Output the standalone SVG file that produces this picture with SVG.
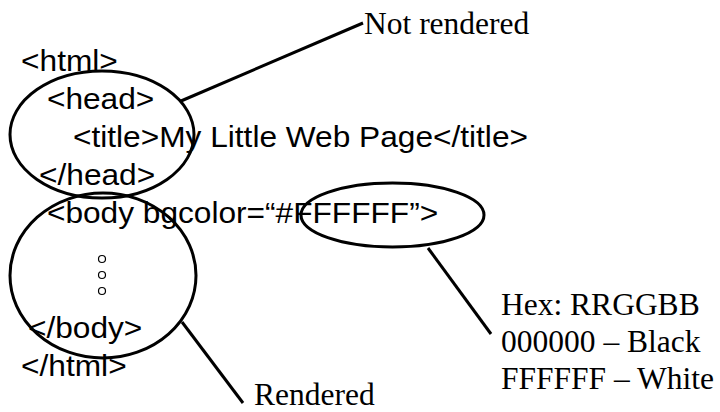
<svg xmlns="http://www.w3.org/2000/svg" width="720" height="412" viewBox="0 0 720 412">
<style>
.code{font-family:"Liberation Sans",Arial,sans-serif;font-size:30px;fill:#000}
.note{font-family:"Liberation Serif","Times New Roman",serif;font-size:31.5px;fill:#000}
.ell{fill:none;stroke:#000;stroke-width:3}
.dot{fill:none;stroke:#000;stroke-width:1.2}
.conn line{stroke:#000;stroke-width:3}
</style>
<rect width="720" height="412" fill="#fff"/>
<g id="code">
<g transform="scale(1.055,1)">
<text class="code" x="20" y="71">&lt;html&gt;</text>
<text class="code" x="44.5" y="109">&lt;head&gt;</text>
<text class="code" x="69.2" y="147">&lt;title&gt;My Little Web Page&lt;/title&gt;</text>
<text class="code" x="37" y="185">&lt;/head&gt;</text>
<text class="code" x="44.5" y="223">&lt;body bgcolor=“#FFFFFF”&gt;</text>
<text class="code" x="26.5" y="338">&lt;/body&gt;</text>
<text class="code" x="20" y="376">&lt;/html&gt;</text>
</g>
<circle class="dot" cx="102" cy="259" r="3.5"/>
<circle class="dot" cx="102" cy="275" r="3.5"/>
<circle class="dot" cx="102" cy="291" r="3.5"/>
</g>
<g id="head-ellipse"><ellipse class="ell" cx="102" cy="134.5" rx="92" ry="63.5"/></g>
<g id="body-ellipse"><ellipse class="ell" cx="103" cy="275.5" rx="93" ry="82.5"/></g>
<g id="color-ellipse"><ellipse class="ell" cx="392.5" cy="215" rx="91.5" ry="32"/></g>
<g id="not-rendered"><text class="note" x="364" y="34">Not rendered</text></g>
<g id="rendered"><text class="note" x="254" y="405">Rendered</text></g>
<g id="hex-note">
<text class="note" x="501" y="315">Hex: RRGGBB</text>
<text class="note" x="501" y="352">000000 – Black</text>
<text class="note" x="501" y="389">FFFFFF – White</text>
</g>
<g class="conn" id="connectors">
<line x1="181" y1="101" x2="363" y2="23"/>
<line x1="182" y1="322" x2="243" y2="403"/>
<line x1="428" y1="248" x2="491" y2="334"/>
</g>
</svg>
